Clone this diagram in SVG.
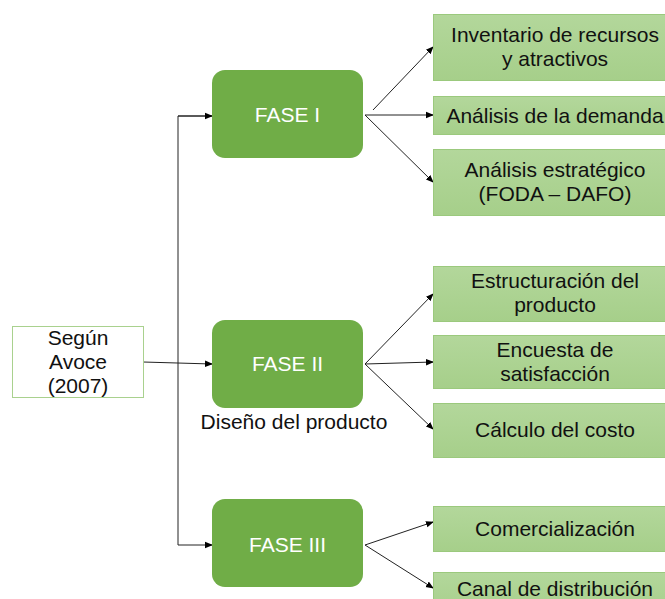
<svg xmlns="http://www.w3.org/2000/svg" width="665" height="599" viewBox="0 0 665 599">
<defs>
<marker id="ah" markerWidth="8" markerHeight="8" refX="7" refY="4" orient="auto" markerUnits="userSpaceOnUse">
<path d="M0,0.8 L8,4 L0,7.2 Z" fill="#000"/>
</marker>
<linearGradient id="lg" x1="0" y1="0" x2="0" y2="1">
<stop offset="0" stop-color="#b3d79b"/>
<stop offset="1" stop-color="#a6cf8a"/>
</linearGradient>
</defs>
<style>
text{font-family:"Liberation Sans",Arial,sans-serif;text-anchor:middle}
.fase rect{fill:#70ad47}
.fase text{fill:#fff;font-size:21px}
.item rect{fill:url(#lg);stroke:#9bc97d;stroke-width:1}
.item text{fill:#111;font-size:21px}
.conn line,.conn polyline{stroke:#222;stroke-width:1;fill:none}
.arr{marker-end:url(#ah)}
</style>
<rect width="665" height="599" fill="#fff"/>
<g class="conn">
<line x1="143" y1="362" x2="212" y2="364" class="arr"/>
<polyline points="212,116 178,116 178,545 212,545" class="arr"/>
<line x1="178" y1="116" x2="212" y2="116" class="arr"/>
<line x1="373" y1="110" x2="433" y2="47" class="arr"/>
<line x1="365" y1="115" x2="433" y2="115" class="arr"/>
<line x1="365" y1="115" x2="433" y2="182" class="arr"/>
<line x1="365" y1="364" x2="433" y2="294" class="arr"/>
<line x1="365" y1="364" x2="433" y2="362" class="arr"/>
<line x1="365" y1="364" x2="433" y2="429" class="arr"/>
<line x1="365" y1="545" x2="433" y2="522" class="arr"/>
<line x1="365" y1="545" x2="433" y2="588" class="arr"/>
</g>
<g id="segun">
<rect x="12.5" y="326.5" width="131" height="71" fill="#fff" stroke="#a9d18e" stroke-width="1"/>
<text x="78" y="345" font-size="21" fill="#111">Según</text>
<text x="78" y="369" font-size="21" fill="#111">Avoce</text>
<text x="78" y="393" font-size="21" fill="#111">(2007)</text>
</g>
<g id="fase1" class="fase">
<rect x="212" y="70" width="151" height="88" rx="13"/>
<text x="287.5" y="122">FASE I</text>
</g>
<g id="fase2" class="fase">
<rect x="212" y="320" width="151" height="88" rx="13"/>
<text x="287.5" y="371">FASE II</text>
</g>
<g id="fase3" class="fase">
<rect x="212" y="499" width="151" height="88" rx="13"/>
<text x="287.5" y="552">FASE III</text>
</g>
<g id="disenio">
<text x="294" y="429" font-size="21" fill="#111">Diseño del producto</text>
</g>
<g id="item1" class="item">
<rect x="433.5" y="14.5" width="240" height="66"/>
<text x="555" y="42">Inventario de recursos</text>
<text x="555" y="66">y atractivos</text>
</g>
<g id="item2" class="item">
<rect x="433.5" y="96.5" width="240" height="38"/>
<text x="555" y="123">Análisis de la demanda</text>
</g>
<g id="item3" class="item">
<rect x="433.5" y="149.5" width="240" height="66"/>
<text x="555" y="177">Análisis estratégico</text>
<text x="555" y="201">(FODA – DAFO)</text>
</g>
<g id="item4" class="item">
<rect x="433.5" y="266.5" width="240" height="55"/>
<text x="555" y="288">Estructuración del</text>
<text x="555" y="312">producto</text>
</g>
<g id="item5" class="item">
<rect x="433.5" y="335.5" width="240" height="53"/>
<text x="555" y="357">Encuesta de</text>
<text x="555" y="381">satisfacción</text>
</g>
<g id="item6" class="item">
<rect x="433.5" y="403.5" width="240" height="54"/>
<text x="555" y="437">Cálculo del costo</text>
</g>
<g id="item7" class="item">
<rect x="433.5" y="506.5" width="240" height="45"/>
<text x="555" y="536">Comercialización</text>
</g>
<g id="item8" class="item">
<rect x="433.5" y="572.5" width="240" height="45"/>
<text x="555" y="596">Canal de distribución</text>
</g>
</svg>
